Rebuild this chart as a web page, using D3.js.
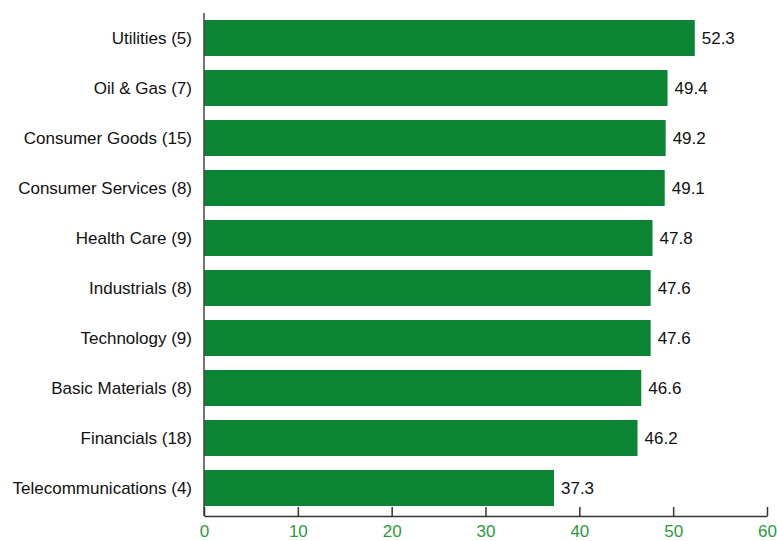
<!DOCTYPE html>
<html>
<head>
<meta charset="utf-8">
<script src="https://cdn.jsdelivr.net/npm/d3@7"></script>
<style>
  body { margin: 0; background: #fff; }
  svg { display: block; font-family: Arial, "Liberation Sans", sans-serif; }
</style>
</head>
<body>
<svg id="bar-chart" width="777" height="541"></svg>
<script>
// data
var categories = ["Utilities (5)", "Oil & Gas (7)", "Consumer Goods (15)", "Consumer Services (8)",
    "Health Care (9)", "Industrials (8)", "Technology (9)", "Basic Materials (8)",
    "Financials (18)", "Telecommunications (4)"];
var values = [52.3, 49.4, 49.2, 49.1, 47.8, 47.6, 47.6, 46.6, 46.2, 37.3];
var xTicks = [0, 10, 20, 30, 40, 50, 60];

var margin = { top: 13, right: 10, bottom: 25, left: 204 };
var width = 767 - margin.left;
var height = 516 - margin.top;

var svg = d3.select("#bar-chart");
var chart = svg.append("g")
    .attr("transform", "translate(" + margin.left + "," + margin.top + ")");

var x = d3.scaleLinear().domain([0, 60]).range([0, width]);
var y = d3.scaleBand().domain(categories).range([0, 500]).paddingInner(0.28).paddingOuter(0.14);

// bars
chart.selectAll(".bar")
    .data(values).enter()
    .append("rect")
    .attr("class", "bar")
    .attr("x", 0)
    .attr("y", function (d, i) { return y(categories[i]); })
    .attr("width", function (d) { return x(d); })
    .attr("height", y.bandwidth())
    .attr("fill", "#0b8533");

// value labels
chart.selectAll(".val")
    .data(values).enter()
    .append("text")
    .attr("class", "val")
    .attr("x", function (d) { return x(d) + 7; })
    .attr("y", function (d, i) { return y(categories[i]) + y.bandwidth() / 2 + 6; })
    .attr("font-size", 17)
    .attr("fill", "#111")
    .text(function (d) { return d.toFixed(1); });

// category labels
chart.selectAll(".cat")
    .data(categories).enter()
    .append("text")
    .attr("class", "cat")
    .attr("x", -12)
    .attr("y", function (d) { return y(d) + y.bandwidth() / 2 + 6; })
    .attr("text-anchor", "end")
    .attr("font-size", 17)
    .attr("fill", "#111")
    .text(function (d) { return d; });

// y axis line
chart.append("line")
    .attr("x1", 0).attr("x2", 0)
    .attr("y1", 0).attr("y2", height)
    .attr("stroke", "#444")
    .attr("stroke-width", 1.5);

// x axis, ticks pointing up
var xAxis = d3.axisBottom(x).tickValues(xTicks).tickSizeInner(-9).tickSizeOuter(0).tickPadding(9);
var gx = chart.append("g")
    .attr("transform", "translate(0," + height + ")")
    .call(xAxis);
gx.select(".domain").attr("stroke", "#333").attr("stroke-width", 1.5);
gx.selectAll(".tick line").attr("stroke", "#333").attr("stroke-width", 1.5);
gx.selectAll(".tick text")
    .attr("fill", "#2a9a3e")
    .attr("font-size", 17)
    .attr("font-family", "Arial, 'Liberation Sans', sans-serif");
</script>
</body>
</html>
